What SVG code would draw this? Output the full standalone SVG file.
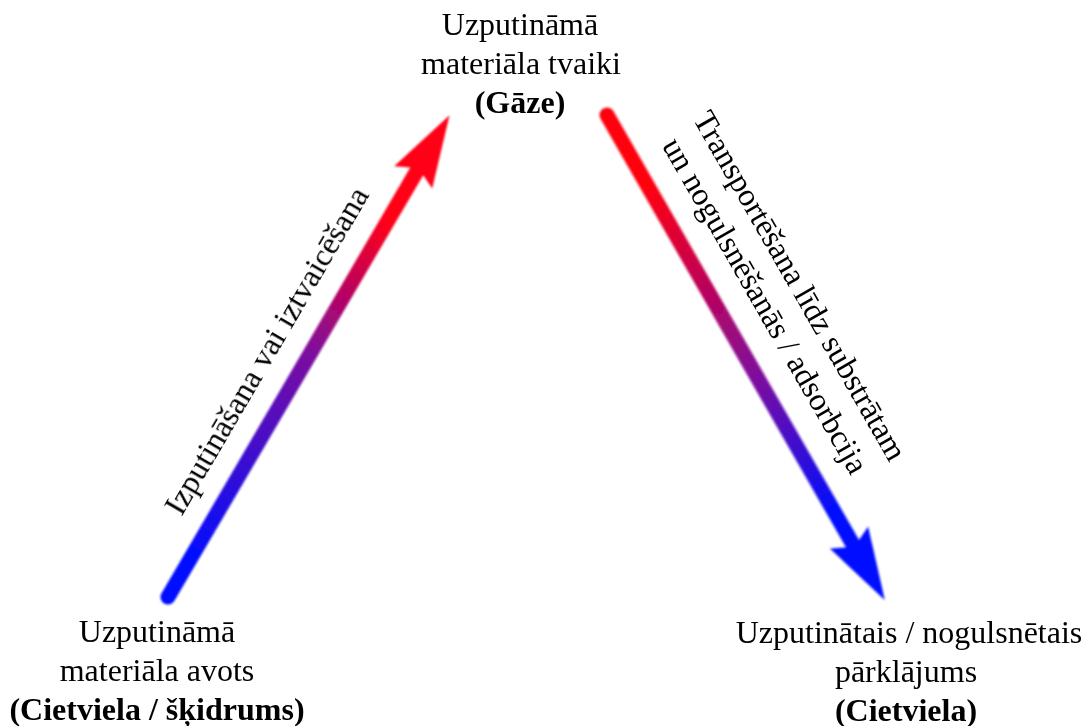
<svg xmlns="http://www.w3.org/2000/svg" width="1083" height="726" viewBox="0 0 1083 726">
  <defs>
    <!-- colour ramps along the arrow axis (local coordinates, tail at x=0) -->
    <linearGradient id="gradUp" gradientUnits="userSpaceOnUse" x1="0" y1="0" x2="558" y2="0">
      <stop offset="0.08" stop-color="#0010ff"/>
      <stop offset="0.5" stop-color="#7a0aa0"/>
      <stop offset="0.78" stop-color="#ff0018"/>
    </linearGradient>
    <linearGradient id="gradDown" gradientUnits="userSpaceOnUse" x1="0" y1="0" x2="559" y2="0">
      <stop offset="0.15" stop-color="#ff0010"/>
      <stop offset="0.55" stop-color="#7a0aa0"/>
      <stop offset="0.82" stop-color="#0010ff"/>
    </linearGradient>
    <filter id="soft" x="-10%" y="-10%" width="120%" height="120%">
      <feGaussianBlur stdDeviation="1.3"/>
    </filter>
  </defs>
  <style>
    text { font-family: "Liberation Serif", "Times New Roman", serif; font-size: 32px; fill: #000; }
    .c { text-anchor: middle; }
    .b { font-weight: bold; }
  </style>

  <rect width="1083" height="726" fill="#ffffff"/>

  <!-- connectors -->
  <g id="connectors" filter="url(#soft)">
    <g id="arrow-up" transform="translate(168,597) rotate(-59.7)">
      <line x1="0" y1="0" x2="495" y2="0" stroke="url(#gradUp)" stroke-width="15" stroke-linecap="round"/>
      <polygon points="558,0 486,-22 493,-7.5 493,7.5 486,22" fill="url(#gradUp)"/>
    </g>
    <g id="arrow-down" transform="translate(607,115) rotate(60.2)">
      <line x1="0" y1="0" x2="496" y2="0" stroke="url(#gradDown)" stroke-width="15" stroke-linecap="round"/>
      <polygon points="559,0 487,-22 494,-7.5 494,7.5 487,22" fill="url(#gradDown)"/>
    </g>
  </g>

  <!-- process labels along the arrows -->
  <g id="label-up">
    <text class="c" transform="translate(267,351) rotate(-59.7)" y="10">Izputināšana vai iztvaicēšana</text>
  </g>
  <g id="label-down">
    <text class="c" transform="translate(798,287) rotate(60.2)" y="8">Transportēšana līdz substrātam</text>
    <text class="c" transform="translate(798,287) rotate(60.2)" y="48">un nogulsnēšanās / adsorbcija</text>
  </g>

  <!-- states -->
  <g id="node-gas">
    <text class="c" x="520" y="35">Uzputināmā</text>
    <text class="c" x="521" y="74">materiāla tvaiki</text>
    <text class="c b" x="520" y="113">(Gāze)</text>
  </g>
  <g id="node-source">
    <text class="c" x="157" y="642">Uzputināmā</text>
    <text class="c" x="157" y="681">materiāla avots</text>
    <text class="c b" x="157" y="720">(Cietviela / šķidrums)</text>
  </g>
  <g id="node-coating">
    <text class="c" x="909" y="643">Uzputinātais / nogulsnētais</text>
    <text class="c" x="906" y="682">pārklājums</text>
    <text class="c b" x="906" y="721">(Cietviela)</text>
  </g>
</svg>
